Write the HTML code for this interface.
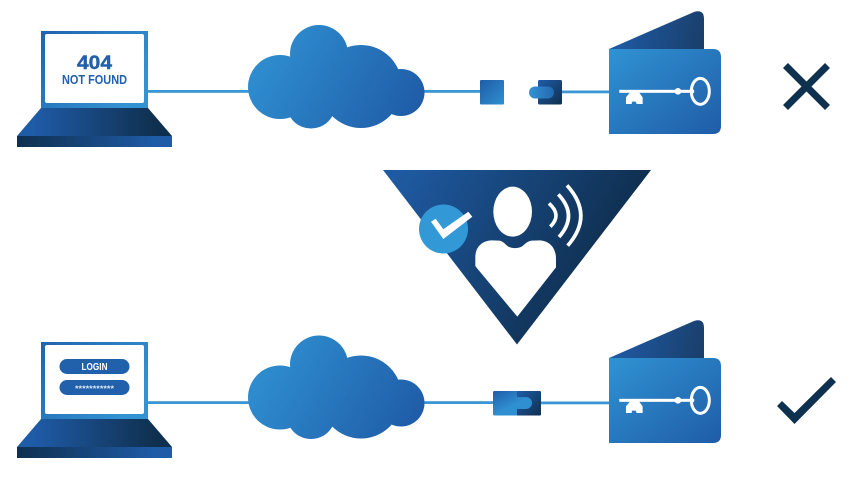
<!DOCTYPE html>
<html><head><meta charset="utf-8"><style>
html,body{margin:0;padding:0;background:#fff;width:854px;height:480px;overflow:hidden}
svg{display:block}
text{font-family:"Liberation Sans",sans-serif;font-weight:bold;text-anchor:middle}
</style></head><body>
<svg width="854" height="480" viewBox="0 0 854 480" xmlns="http://www.w3.org/2000/svg">
<defs>
<linearGradient id="blue" x1="0" y1="0" x2="1" y2="1"><stop offset="0.05" stop-color="#2f90d0"/><stop offset="1" stop-color="#1f5ca8"/></linearGradient>
<linearGradient id="blueUp" x1="0" y1="0" x2="1" y2="1"><stop offset="0" stop-color="#1f5ca8"/><stop offset="1" stop-color="#2f90d0"/></linearGradient>
<linearGradient id="lockg" x1="0" y1="0" x2="0.5" y2="0.5"><stop offset="0" stop-color="#1f5ca8"/><stop offset="1" stop-color="#2f8fd0"/></linearGradient>
<linearGradient id="pill" x1="0" y1="0" x2="1" y2="0"><stop offset="0" stop-color="#3293d3"/><stop offset="1" stop-color="#2568b0"/></linearGradient>
<linearGradient id="cloud" gradientUnits="userSpaceOnUse" x1="265" y1="40" x2="410" y2="125"><stop offset="0" stop-color="#2f8fd0"/><stop offset="1" stop-color="#1f5ca8"/></linearGradient>
<linearGradient id="screen" x1="0" y1="0" x2="1" y2="0.6"><stop offset="0" stop-color="#2164ae"/><stop offset="1" stop-color="#3293d3"/></linearGradient>
<linearGradient id="base" x1="0" y1="0" x2="1" y2="0"><stop offset="0.1" stop-color="#1f5ca8"/><stop offset="0.9" stop-color="#0f2f4e"/></linearGradient>
<linearGradient id="bar" x1="0" y1="0" x2="1" y2="0"><stop offset="0" stop-color="#0f2f4e"/><stop offset="0.9" stop-color="#1f5ca8"/></linearGradient>
<linearGradient id="dark" x1="0" y1="0" x2="1" y2="1"><stop offset="0" stop-color="#1f5ca8"/><stop offset="1" stop-color="#0f2f4e"/></linearGradient>
<linearGradient id="flap" x1="0" y1="0.5" x2="1" y2="0.6"><stop offset="0" stop-color="#1f5ca8"/><stop offset="1" stop-color="#1a3f6b"/></linearGradient>
<linearGradient id="tri" gradientUnits="userSpaceOnUse" x1="395" y1="170" x2="610" y2="285"><stop offset="0" stop-color="#1f5ba4"/><stop offset="1" stop-color="#0e2c4a"/></linearGradient>
<g id="laptop">
<rect x="41" y="31" width="107" height="78" fill="url(#screen)"/>
<rect x="45" y="34" width="99" height="69" rx="2" fill="#fff"/>
<polygon points="41,108 148,108 172,136 17,136" fill="url(#base)"/>
<rect x="17" y="136" width="155" height="11" fill="url(#bar)"/>
</g>
<g id="cloudg" fill="url(#cloud)">
<circle cx="280" cy="87" r="32"/>
<circle cx="319" cy="54" r="29"/>
<ellipse cx="361" cy="86.5" rx="41" ry="41.5"/>
<circle cx="401" cy="92.500" r="23.500"/>
<circle cx="311" cy="104" r="24.500"/>
<rect x="285" y="60" width="90" height="50"/>
</g>
<g id="wallet">
<path d="M609,49 L694,12 Q704,9 704,19 L704,52 L609,52 Z" fill="url(#flap)"/>
<path d="M609,49 H713 Q721,49 721,57 V126 Q721,134 713,134 H609 Z" fill="url(#blue)"/>
<g transform="translate(460,0) scale(0.3333)" fill="#fff">
<rect x="478" y="269.500" width="215" height="9"/>
<circle cx="654" cy="274" r="10"/>
<circle cx="696" cy="274" r="7"/>
<ellipse cx="721" cy="274" rx="27" ry="39" fill="none" stroke="#fff" stroke-width="9"/>
<polygon points="510,277 537,277 548,292 548,312 530,312 527,305 516,305 515,312 498,312 498,292"/>
</g>
</g>
</defs>

<!-- row 1 -->
<rect x="148" y="90" width="103" height="2.800" fill="#3a96d4"/>
<rect x="422" y="90" width="60" height="2.800" fill="#3a96d4"/>
<rect x="560" y="90.500" width="50" height="2.800" fill="#3a96d4"/>
<use href="#laptop"/>
<use href="#cloudg"/>
<rect x="480" y="80" width="24" height="24.500" rx="1" fill="url(#blueUp)"/>
<rect x="538" y="80" width="24" height="24.500" rx="1.500" fill="url(#dark)"/>
<rect x="529" y="86.500" width="25" height="12" rx="6" fill="url(#pill)"/>
<use href="#wallet"/>
<text x="94.500" y="69" font-size="19.500" fill="#2160ab" stroke="#2160ab" stroke-width="0.4" textLength="35" lengthAdjust="spacingAndGlyphs">404</text>
<text x="94.500" y="84" font-size="12.500" fill="#2160ab" textLength="65" lengthAdjust="spacingAndGlyphs">NOT FOUND</text>
<g stroke="#0f3150" stroke-width="7" fill="none"><path d="M785.500,65.500 L827.500,107.500 M827.500,65.500 L785.500,107.500"/></g>

<!-- triangle -->
<polygon points="383,170 651,170 517,344.500" fill="url(#tri)"/>
<circle cx="443.500" cy="229" r="24.500" fill="#3398d6"/>
<polygon points="431,221.700 435.700,218.700 443.300,229.300 468.300,211.700 472.300,216.700 443.300,239" fill="#fff"/>
<g transform="translate(375,160) scale(0.3333)" fill="#fff">
<ellipse cx="413" cy="155" rx="58" ry="75"/>
<path d="M301,318 L301,292 C301,262 320,242 350,241 L372,242 C385,243 392,255 400,260 C412,266 428,266 440,260 C448,255 455,244 470,242 L495,241 C525,243 543,265 543,295 L543,322 L427,470 L304,322 Z"/>
<g fill="none" stroke="#fff" stroke-width="11">
<path d="M522,130 Q562,165 526,200"/>
<path d="M550,103 Q610,166 552,231"/>
<path d="M576,76 Q658,166 578,257"/>
</g>
</g>

<!-- row 2 -->
<rect x="148" y="401.200" width="103" height="2.800" fill="#3a96d4"/>
<rect x="422" y="401.200" width="72" height="2.800" fill="#3a96d4"/>
<rect x="540" y="401.500" width="70" height="2.800" fill="#3a96d4"/>
<use href="#laptop" y="311"/>
<use href="#cloudg" y="310.500"/>
<rect x="493" y="391" width="48" height="24.500" rx="1.500" fill="url(#lockg)"/>
<path d="M517,391 H539.500 Q541,391 541,392.500 V414 Q541,415.500 539.500,415.500 H517 V409 H526 A6,6 0 0 0 526,397 H517 Z" fill="url(#dark)"/>
<use href="#wallet" y="309"/>
<rect x="59.500" y="359" width="70" height="15" rx="7.500" fill="#2160ab"/>
<rect x="59.500" y="380" width="70" height="15" rx="7.500" fill="#2160ab"/>
<text x="94.500" y="370.200" font-size="10.500" fill="#fff" textLength="26" lengthAdjust="spacingAndGlyphs">LOGIN</text>
<text x="94.500" y="391.500" font-size="8.500" fill="#dfe9f5" textLength="39" lengthAdjust="spacingAndGlyphs">***********</text>
<polygon points="782,401 794.500,413 831,377 836,382 794.500,424 777,406" fill="#0f3150"/>
</svg>
</body></html>
